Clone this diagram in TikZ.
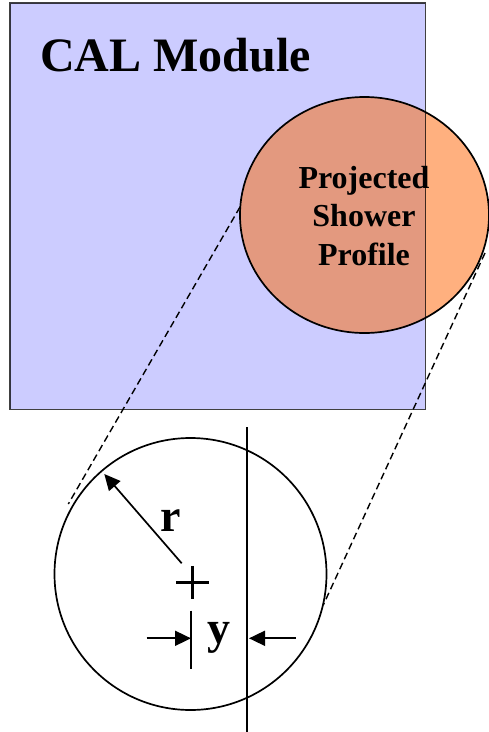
\documentclass[tikz,border=0pt]{standalone}
\usepackage{fontspec}
\setmainfont{Liberation Serif}
\usetikzlibrary{arrows.meta,shapes.geometric}
\definecolor{calblue}{HTML}{CCCCFF}
\definecolor{showerout}{HTML}{FFB07F}
\definecolor{showerin}{HTML}{E3997F}
\begin{document}
\begin{tikzpicture}[x=1pt,y=-1pt,
  outline/.style={draw=black,line width=1.7pt},
  dimarrow/.style={line width=1.7pt,-{Triangle[length=16pt,width=15pt]}},
  zoomline/.style={line width=1.4pt,dash pattern=on 7pt off 4pt},
  bigtxt/.style={font=\bfseries\fontsize{46}{55}\selectfont,inner sep=0pt}]
\useasboundingbox (0,0) rectangle (489,732);
% CAL module
\node (module) [fill=calblue,minimum width=415pt,minimum height=406pt,inner sep=0pt,anchor=north west] at (10,3) {};
% shower profile
\node (shower) [ellipse,fill=showerout,minimum width=249pt,minimum height=236pt,inner sep=0pt] at (364.5,215) {};
\begin{scope}
  \clip (module.north west) rectangle (module.south east);
  \fill[showerin] (shower.center) ellipse [x radius=124.5,y radius=118];
\end{scope}
\draw[draw=black,line width=1.7pt,draw opacity=0.75] (module.north west) rectangle (module.south east);
\draw[outline] (shower.center) ellipse [x radius=124.5,y radius=118];
\node[font=\bfseries\fontsize{48}{58}\selectfont,inner sep=0pt,anchor=base west] (title) at (40,71) {CAL Module};
\node[font=\bfseries\fontsize{32}{38.5}\selectfont,align=center,inner sep=0pt] (label) at (364,216) {Projected\\Shower\\Profile};
% zoomed circle
\node (lens) [circle,outline,minimum size=272pt,inner sep=0pt] at (190.5,574) {};
\coordinate (vtop) at (247,427);
\coordinate (vbot) at (247,732);
\draw[line width=1.7pt] (vtop) -- (vbot);
% zoom lines
\coordinate (eL) at (240,207);
\coordinate (cL) at (68.3,504);
\coordinate (eR) at (485,253);
\coordinate (cR) at (323.3,605);
\draw[zoomline] (eL) -- (cL);
\draw[zoomline] (eR) -- (cR);
% centre mark
\coordinate (ctr) at (192.7,582.3);
\draw[line width=3.3pt] ([xshift=-16.3pt]ctr) -- ([xshift=16.3pt]ctr);
\draw[line width=3.3pt] ([yshift=16.5pt]ctr) -- ([yshift=-16.5pt]ctr);
% radius
\coordinate (rs) at (181.7,563.3);
\coordinate (re) at (104.3,474);
\draw[dimarrow] (rs) -- (re);
\node[bigtxt,anchor=base west] (rlab) at (160,531.7) {r};
% y dimension
\coordinate (tt) at (191,610.7);
\coordinate (tb) at (191,669.3);
\draw[line width=1.7pt] (tt) -- (tb);
\coordinate (la) at (146.7,638.3);
\coordinate (lb) at (191,638.3);
\coordinate (ra) at (295.7,638.3);
\coordinate (rb) at (249,638.3);
\draw[dimarrow] (la) -- (lb);
\draw[dimarrow] (ra) -- (rb);
\node[bigtxt,anchor=base west] (ylab) at (207,643) {y};
\end{tikzpicture}
\end{document}
